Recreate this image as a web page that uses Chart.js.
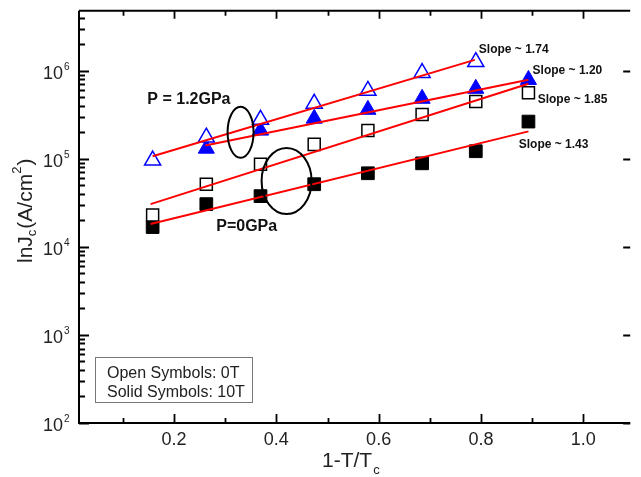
<!DOCTYPE html>
<html lang="en">
<head>
	<meta charset="UTF-8">
	<title>lnJc vs 1-T/Tc</title>
	<script src="https://cdn.jsdelivr.net/npm/chart.js@4.4.0/dist/chart.umd.min.js"></script>
	<style>
		body,html{padding:0;margin:0;background:#fff;}
		#wrap{width:641px;height:477px;position:relative;}
	</style>
</head>
<body>
	<div id="wrap"><canvas id="jcChart"></canvas></div>
	<script>
		// 1 - T/Tc
		var tVals = [0.158, 0.263, 0.369, 0.474, 0.579, 0.685, 0.790, 0.893];
		// Jc in A/cm^2
		var openTri  = [9.6e4, 1.75e5, 2.79e5, 4.24e5, 5.94e5, 9.48e5, 1.26e6];          // 1.2GPa, 0T
		var solidTri = [null, 1.31e5, 2.10e5, 2.87e5, 3.62e5, 4.83e5, 6.27e5, 7.91e5];  // 1.2GPa, 10T
		var openSq   = [2.30e4, 5.15e4, 8.67e4, 1.46e5, 2.10e5, 3.18e5, 4.47e5, 5.64e5]; // 0GPa, 0T
		var solidSq  = [1.68e4, 3.06e4, 3.77e4, 5.15e4, 6.86e4, 8.89e4, 1.22e5, 2.65e5]; // 0GPa, 10T
		// fitted lines: start/end x and y
		var fitX = [[0.158, 0.788], [0.261, 0.893], [0.154, 0.893], [0.154, 0.893]];
		var fitY = [[1.07e5, 1.33e6], [1.42e5, 7.9e5], [3.06e4, 7.13e5], [1.82e4, 2.05e5]];
		var slopeText = ['Slope ~ 1.74', 'Slope ~ 1.20', 'Slope ~ 1.85', 'Slope ~ 1.43'];
		var xTickLabels = [0.2, 0.4, 0.6, 0.8, 1.0];
		var yDecades = [2, 3, 4, 5, 6];
		var legendLines = ['Open Symbols: 0T', 'Solid Symbols: 10T'];

		// annotation anchors in data units
		var slopePos = [[0.796, 1.72e6], [0.901, 1.0e6], [0.911, 4.71e5], [0.874, 1.43e5]];
		var pressNotes = [['P = 1.2GPa', 0.229, 4.71e5], ['P=0GPa', 0.342, 1.70e4]];
		var ovals = [[0.330, 2.0e5, 13, 25.5], [0.420, 5.61e4, 25, 33]];

		var FONT = '"Liberation Sans", Arial, sans-serif';

		function pts(vals){
			var out = [];
			for(var i=0;i<vals.length;i++){
				if(vals[i] != null) out.push({x:tVals[i], y:vals[i]});
			}
			return out;
		}

		var datasets = [];
		for(var k=0;k<fitX.length;k++){
			datasets.push({
				data:[{x:fitX[k][0], y:fitY[k][0]}, {x:fitX[k][1], y:fitY[k][1]}],
				showLine:true, borderColor:'#ff0000', borderWidth:2, pointRadius:0, order:0
			});
		}
		datasets.push({data:pts(openTri), pointStyle:'triangle', pointRadius:9.3, borderColor:'#0000ff', backgroundColor:'#fff', borderWidth:1.5, order:1});
		datasets.push({data:pts(solidTri), pointStyle:'triangle', pointRadius:9.3, borderColor:'#0000ff', backgroundColor:'#0000ff', borderWidth:1, order:1});
		datasets.push({data:pts(openSq), pointStyle:'rect', pointRadius:8.5, borderColor:'#000', backgroundColor:'#fff', borderWidth:1.5, order:1});
		datasets.push({data:pts(solidSq), pointStyle:'rect', pointRadius:9, borderColor:'#000', backgroundColor:'#000', borderWidth:1, order:1});

		var frame = {
			id:'frame',
			afterDraw:function(chart){
				var ctx = chart.ctx, a = chart.chartArea, xs = chart.scales.x, ys = chart.scales.y;
				ctx.save();
				ctx.strokeStyle = '#000';
				ctx.lineWidth = 2;
				ctx.beginPath();
				ctx.moveTo(a.left, a.top); ctx.lineTo(a.right, a.top);
				ctx.moveTo(a.left, a.top); ctx.lineTo(a.left, a.bottom); ctx.lineTo(a.right, a.bottom);
				ctx.stroke();

				// x ticks, pointing in, top and bottom
				ctx.lineWidth = 1.8;
				ctx.beginPath();
				for(var i=1;i<=10;i++){
					var px = Math.round(xs.getPixelForValue(i/10)) + 0.5;
					var major = (i % 2 == 0);
					ctx.moveTo(px, a.bottom); ctx.lineTo(px, a.bottom - (major ? 9 : 5));
					ctx.moveTo(px, a.top); ctx.lineTo(px, a.top + (major ? 8 : 5));
				}
				// y ticks, left with minors, right majors only
				for(var d=0; d<yDecades.length; d++){
					for(var m=1;m<=9;m++){
						var v = m * Math.pow(10, yDecades[d]);
						if(v > ys.max) break;
						var py = Math.round(ys.getPixelForValue(v)) + 0.5;
						ctx.moveTo(a.left, py); ctx.lineTo(a.left + (m == 1 ? 10 : 6), py);
						if(m == 1){ ctx.moveTo(a.right, py); ctx.lineTo(a.right - 7, py); }
					}
				}
				ctx.stroke();

				ctx.fillStyle = '#222';
				ctx.font = '18px ' + FONT;
				ctx.textAlign = 'center';
				ctx.textBaseline = 'alphabetic';
				xTickLabels.forEach(function(t){
					ctx.fillText(t.toFixed(1), xs.getPixelForValue(t), a.bottom + 22);
				});
				yDecades.forEach(function(e){
					var py = ys.getPixelForValue(Math.pow(10, e));
					ctx.textAlign = 'right';
					ctx.font = '18px ' + FONT;
					ctx.fillText('10', a.left - 16, py + 8);
					ctx.textAlign = 'left';
					ctx.font = '10px ' + FONT;
					ctx.fillText(String(e), a.left - 15, py - 1);
				});

				// x title 1-T/Tc
				ctx.textAlign = 'left';
				ctx.font = '21px ' + FONT;
				var xt = '1-T/T', x0 = 322;
				ctx.fillText(xt, x0, a.bottom + 44);
				var w0 = ctx.measureText(xt).width;
				ctx.font = '13px ' + FONT;
				ctx.fillText('c', x0 + w0 + 1, a.bottom + 51);

				// y title lnJc(A/cm2), rotated
				ctx.save();
				ctx.translate(32, 263);
				ctx.rotate(-Math.PI/2);
				var parts = [['lnJ',21,0], ['c',13,4], ['(A/cm',21,0], ['2',13,-11], [')',21,0]];
				var cx = 0;
				parts.forEach(function(p){
					ctx.font = p[1] + 'px ' + FONT;
					ctx.fillText(p[0], cx, p[2]);
					cx += ctx.measureText(p[0]).width + (p[1] == 13 ? 1 : 0);
				});
				ctx.restore();

				// ovals
				ctx.strokeStyle = '#000';
				ctx.lineWidth = 2;
				ovals.forEach(function(o){
					ctx.beginPath();
					ctx.ellipse(xs.getPixelForValue(o[0]), ys.getPixelForValue(o[1]), o[2], o[3], 0, 0, Math.PI*2);
					ctx.stroke();
				});

				// slope labels and pressure notes
				ctx.fillStyle = '#111';
				ctx.textAlign = 'left';
				ctx.textBaseline = 'middle';
				ctx.font = 'bold 12px ' + FONT;
				slopeText.forEach(function(s, i){
					ctx.fillText(s, xs.getPixelForValue(slopePos[i][0]), ys.getPixelForValue(slopePos[i][1]));
				});
				ctx.textAlign = 'center';
				ctx.font = 'bold 16px ' + FONT;
				pressNotes.forEach(function(n){
					ctx.fillText(n[0], xs.getPixelForValue(n[1]), ys.getPixelForValue(n[2]));
				});

				// symbol key box
				ctx.strokeStyle = '#777';
				ctx.lineWidth = 1;
				ctx.strokeRect(95.5, 357.5, 157, 45);
				ctx.fillStyle = '#222';
				ctx.textAlign = 'left';
				ctx.textBaseline = 'alphabetic';
				ctx.font = '16px ' + FONT;
				legendLines.forEach(function(s, i){
					ctx.fillText(s, 107, 378 + i*19);
				});
				ctx.restore();
			}
		};

		new Chart(document.getElementById('jcChart'), {
			type:'scatter',
			data:{datasets:datasets},
			options:{
				responsive:true,
				maintainAspectRatio:false,
				animation:false,
				layout:{padding:{left:79, right:0, top:7, bottom:54}},
				plugins:{legend:{display:false}, tooltip:{enabled:false}},
				scales:{
					x:{type:'linear', display:false, min:0.014, max:1.092},
					y:{type:'logarithmic', display:false, min:100, max:4.8e6}
				}
			},
			plugins:[frame]
		});
	</script>
</body>
</html>
